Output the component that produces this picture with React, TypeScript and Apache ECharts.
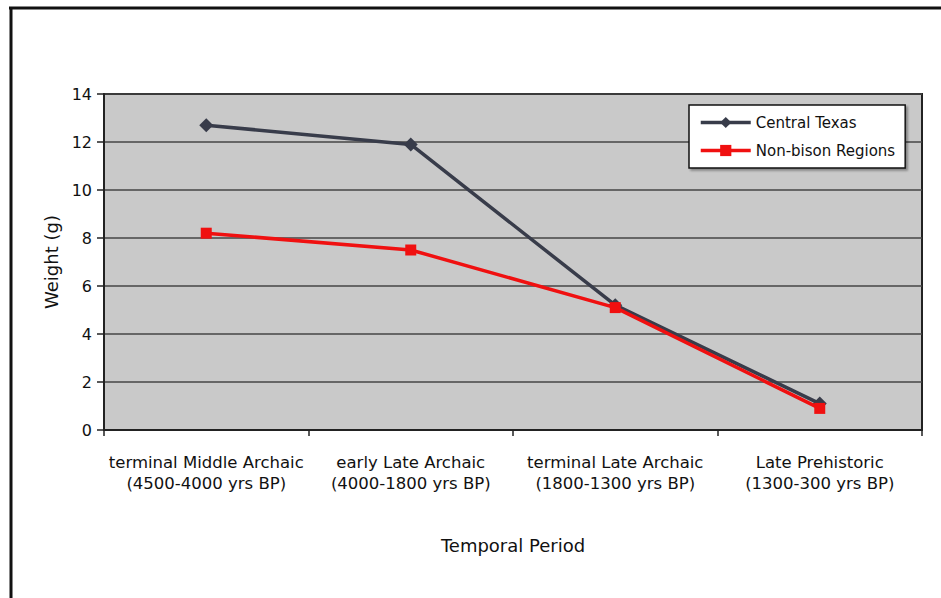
import React, { useEffect, useRef } from "react";
import * as echarts from "echarts";

const categories = [
  "terminal Middle Archaic\n(4500-4000 yrs BP)",
  "early Late Archaic\n(4000-1800 yrs BP)",
  "terminal Late Archaic\n(1800-1300 yrs BP)",
  "Late Prehistoric\n(1300-300 yrs BP)",
];
const centralTexas = [12.7, 11.9, 5.2, 1.1];
const nonBison = [8.2, 7.5, 5.1, 0.9];
const yTicks = { min: 0, max: 14, interval: 2 };

const FONT = "'DejaVu Sans', sans-serif";

export default function App() {
  const ref = useRef<HTMLDivElement>(null);
  useEffect(() => {
    if (!ref.current) return;
    const chart = echarts.init(ref.current, null, { renderer: "svg" });
    chart.setOption({
      animation: false,
      backgroundColor: "#ffffff",
      textStyle: { fontFamily: FONT },
      graphic: [
        { type: "line", shape: { x1: 9, y1: 8, x2: 941, y2: 8 }, style: { stroke: "#111", lineWidth: 3 } },
        { type: "line", shape: { x1: 11, y1: 8, x2: 11, y2: 598 }, style: { stroke: "#111", lineWidth: 3 } },
      ],
      grid: {
        left: 104,
        right: 19,
        top: 94,
        bottom: 168,
        show: true,
        backgroundColor: "#c9c9c9",
        borderColor: "#222",
        borderWidth: 2,
      },
      legend: {
        orient: "vertical",
        left: 689,
        top: 105,
        padding: [10, 10, 10, 10],
        itemWidth: 50,
        itemHeight: 14,
        itemGap: 13,
        backgroundColor: "#ffffff",
        borderColor: "#111",
        borderWidth: 1.5,
        borderRadius: 0,
        shadowColor: "rgba(0,0,0,0.35)",
        shadowBlur: 2,
        shadowOffsetX: 2,
        shadowOffsetY: 2,
        lineStyle: { width: 3.5 },
        textStyle: { fontFamily: FONT, fontSize: 15, color: "#111" },
        data: ["Central Texas", "Non-bison Regions"],
      },
      xAxis: {
        type: "category",
        data: categories,
        boundaryGap: true,
        name: "Temporal Period",
        nameLocation: "middle",
        nameGap: 106,
        nameTextStyle: { fontFamily: FONT, fontSize: 18, color: "#111" },
        axisLine: { show: true, lineStyle: { color: "#222", width: 2 } },
        axisTick: { show: true, alignWithLabel: false, interval: 0, length: 6, lineStyle: { color: "#222", width: 1.5 } },
        axisLabel: { interval: 0, margin: 22, fontFamily: FONT, fontSize: 16.5, lineHeight: 21, color: "#111" },
        splitLine: { show: false },
      },
      yAxis: {
        type: "value",
        min: yTicks.min,
        max: yTicks.max,
        interval: yTicks.interval,
        name: "Weight (g)",
        nameLocation: "middle",
        nameGap: 44,
        nameTextStyle: { fontFamily: FONT, fontSize: 18, color: "#111" },
        axisLine: { show: true, lineStyle: { color: "#222", width: 2 } },
        axisTick: { show: true, length: 7, lineStyle: { color: "#222", width: 1.5 } },
        axisLabel: { margin: 12, fontFamily: FONT, fontSize: 16, color: "#111" },
        splitLine: { show: true, lineStyle: { color: "#444", width: 1.5 } },
      },
      series: [
        {
          name: "Central Texas",
          type: "line",
          data: centralTexas,
          symbol: "diamond",
          symbolSize: 14,
          lineStyle: { color: "#383c4a", width: 3.5 },
          itemStyle: { color: "#383c4a" },
          z: 2,
        },
        {
          name: "Non-bison Regions",
          type: "line",
          data: nonBison,
          symbol: "rect",
          symbolSize: 11,
          lineStyle: { color: "#f01010", width: 3.5 },
          itemStyle: { color: "#f01010" },
          z: 3,
        },
      ],
    });
    return () => chart.dispose();
  }, []);
  return (
    <div
      ref={ref}
      style={{ position: "fixed", left: 0, top: 0, width: 941, height: 598 }}
    />
  );
}
